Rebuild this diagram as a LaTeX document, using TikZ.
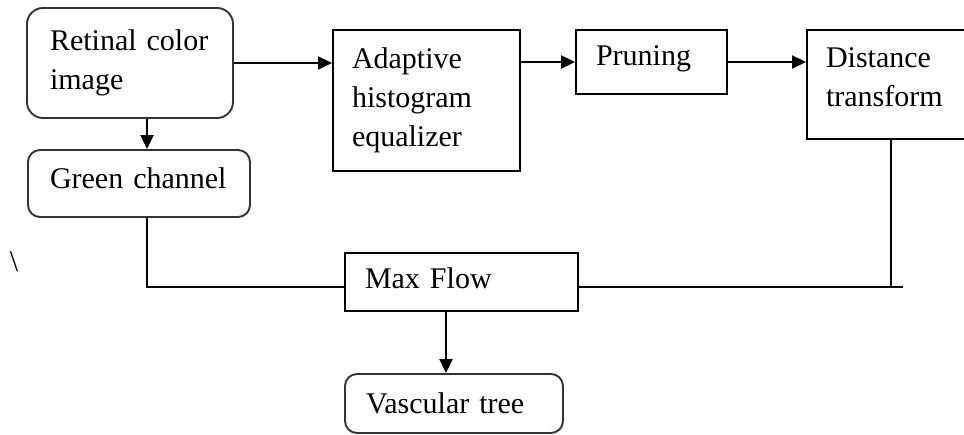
\documentclass[tikz,border=0pt]{standalone}
\usepackage{fontspec}
\setmainfont{Liberation Serif}
\usetikzlibrary{arrows.meta}
\begin{document}
\begin{tikzpicture}[x=1pt,y=-1pt,
  every node/.style={font=\fontsize{30}{39}\selectfont},
  sqbox/.style={draw=black, line width=1.9pt, align=left, inner ysep=0pt},
  rndbox/.style={sqbox, draw=black!80, rounded corners=12pt},
  conn/.style={line width=1.9pt, draw=black},
  arr/.style={conn, -{Triangle[length=14pt,width=13pt]}}]
\clip (0,0) rectangle (964,434);
\useasboundingbox (0,0) rectangle (964,434);

\node[rndbox, rounded corners=16pt, minimum width=206pt, minimum height=110pt, text width=160pt, inner xsep=23pt] (ret) at (130,63) {Retinal color\\image};
\node[rndbox, minimum width=222pt, minimum height=67pt, text width=178pt, inner xsep=22pt] (green) at (139,183.5) {Green channel\rule[-10pt]{0pt}{1pt}};
\node[sqbox, minimum width=187pt, minimum height=141pt, text width=149pt, inner xsep=19pt] (aheq) at (426.5,100.5) {Adaptive\\histogram\\equalizer};
\node[sqbox, minimum width=151pt, minimum height=64pt, text width=111pt, inner xsep=20pt] (prun) at (651.5,62) {Pruning\rule[-13pt]{0pt}{1pt}};
\node[sqbox, minimum width=183pt, minimum height=109pt, text width=145pt, inner xsep=19pt] (dist) at (898.5,84.5) {Distance\\transform\rule[-15pt]{0pt}{1pt}};
\node[sqbox, minimum width=233pt, minimum height=58pt, text width=193pt, inner xsep=20pt] (mf) at (461.5,282) {Max Flow\rule[-8pt]{0pt}{1pt}};
\node[rndbox, minimum width=218pt, minimum height=59pt, text width=176pt, inner xsep=21pt] (vasc) at (454,403.5) {Vascular tree};
\node[inner sep=0pt] (bs) at (14,262) {\textbackslash};

\coordinate (jn) at (891,287);
\coordinate (tail) at (903,287);

\draw[arr] (ret.east) -- (ret.east -| aheq.west);
\draw[arr] (prun.west -| aheq.east) -- (prun.west);
\draw[arr] (prun.east) -- (prun.east -| dist.west);
\draw[arr] ([xshift=17pt]ret.south) -- ([xshift=17pt]ret.south |- green.north);
\draw[conn] ([xshift=8pt]green.south) |- ([yshift=-5pt]mf.west);
\draw[conn] ([yshift=-5pt]mf.east) -- (tail);
\draw[conn] (dist.south -| jn) -- (jn);
\draw[arr] ([xshift=-15.5pt]mf.south) -- ([xshift=-15.5pt]mf.south |- vasc.north);
\end{tikzpicture}
\end{document}
